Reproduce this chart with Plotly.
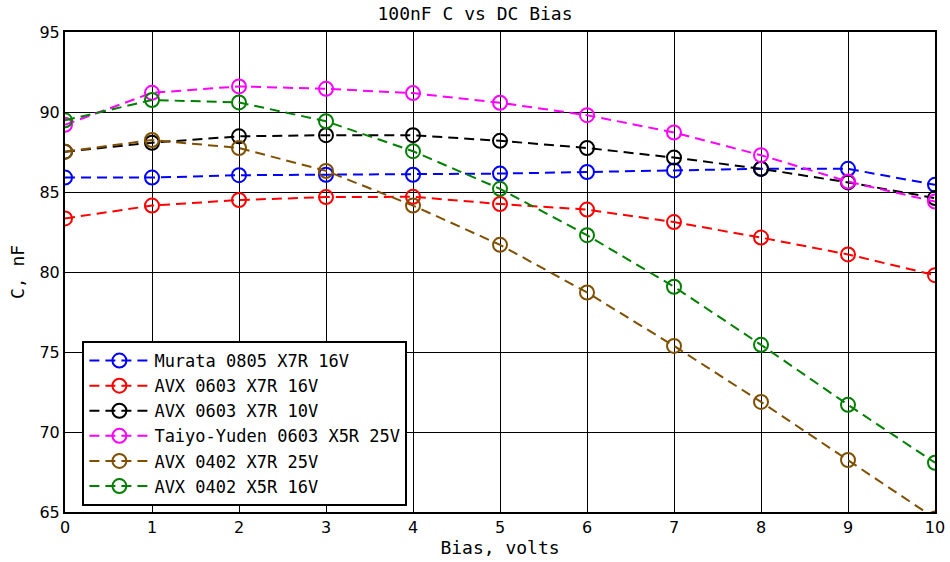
import plotly.graph_objects as go

bias = [0, 1, 2, 3, 4, 5, 6, 7, 8, 9, 10]

murata_0805_x7r_16v = [85.9, 85.9, 86.05, 86.08, 86.08, 86.15, 86.25, 86.35, 86.45, 86.45, 85.45]
avx_0603_x7r_16v = [83.35, 84.15, 84.5, 84.68, 84.7, 84.25, 83.9, 83.12, 82.15, 81.1, 79.8]
avx_0603_x7r_10v = [87.52, 88.08, 88.48, 88.55, 88.55, 88.2, 87.75, 87.15, 86.45, 85.6, 84.62]
taiyo_0603_x5r_25v = [89.2, 91.2, 91.6, 91.45, 91.18, 90.58, 89.8, 88.72, 87.3, 85.65, 84.4]
avx_0402_x7r_25v = [87.52, 88.25, 87.75, 86.32, 84.15, 81.7, 78.72, 75.38, 71.88, 68.25, 64.6]
avx_0402_x5r_16v = [89.48, 90.75, 90.6, 89.42, 87.55, 85.2, 82.3, 79.08, 75.45, 71.7, 68.08]

series_names = [
    "Murata 0805 X7R 16V",
    "AVX 0603 X7R 16V",
    "AVX 0603 X7R 10V",
    "Taiyo-Yuden 0603 X5R 25V",
    "AVX 0402 X7R 25V",
    "AVX 0402 X5R 16V",
]
series_values = [
    murata_0805_x7r_16v,
    avx_0603_x7r_16v,
    avx_0603_x7r_10v,
    taiyo_0603_x5r_25v,
    avx_0402_x7r_25v,
    avx_0402_x5r_16v,
]
series_colors = ["#0000ff", "#ff0000", "#000000", "#ff00ff", "#805000", "#008000"]

x_ticks = [0, 1, 2, 3, 4, 5, 6, 7, 8, 9, 10]
y_ticks = [65, 70, 75, 80, 85, 90, 95]

mono = "DejaVu Sans Mono"
sans = "DejaVu Sans"

fig = go.Figure()
for name, vals, col in zip(series_names, series_values, series_colors):
    fig.add_trace(go.Scatter(
        x=bias, y=vals, name=name, mode="lines+markers",
        line=dict(color=col, width=2, dash="10px,6px"),
        marker=dict(symbol="circle-open", size=14, color=col, line=dict(width=2, color=col)),
    ))

fig.update_layout(
    width=950, height=562,
    margin=dict(l=65, r=15, t=32, b=50, autoexpand=False),
    paper_bgcolor="white", plot_bgcolor="white",
    title=dict(text="100nF C vs DC Bias", x=0.5, xanchor="center", y=1 - 14 / 562, yanchor="middle",
               font=dict(family=mono, size=18, color="black")),
    xaxis=dict(
        range=[0, 10], tickvals=x_ticks, ticktext=[str(t) for t in x_ticks],
        showgrid=True, gridcolor="black", gridwidth=1,
        showline=True, linecolor="black", linewidth=2, mirror=True,
        ticks="inside", ticklen=5, tickcolor="black",
        tickfont=dict(family=sans, size=16, color="black"),
        title=dict(text="Bias, volts", font=dict(family=mono, size=18, color="black"), standoff=5),
        zeroline=False, automargin=False,
    ),
    yaxis=dict(
        range=[65, 95], tickvals=y_ticks, ticktext=[str(t) for t in y_ticks],
        showgrid=True, gridcolor="black", gridwidth=1,
        showline=True, linecolor="black", linewidth=2, mirror=True,
        ticks="inside", ticklen=5, tickcolor="black",
        tickfont=dict(family=sans, size=16, color="black"),
        title=dict(text="C, nF", font=dict(family=mono, size=18, color="black"), standoff=10),
        zeroline=False, automargin=False,
    ),
    legend=dict(
        x=0.02, y=6 / 480, xanchor="left", yanchor="bottom",
        bgcolor="white", bordercolor="black", borderwidth=2,
        font=dict(family=mono, size=17, color="black"),
        tracegroupgap=0, itemwidth=60,
    ),
    showlegend=True,
)

fig.write_html("out.html")
